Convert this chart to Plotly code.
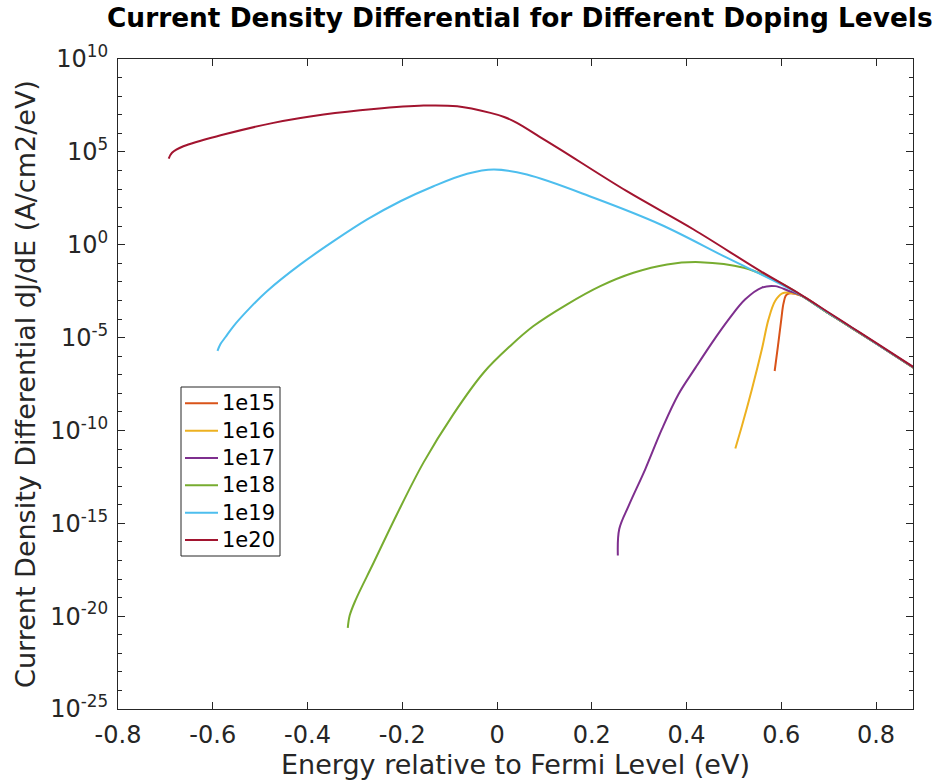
import plotly.graph_objects as go

# Energy relative to the Fermi level (eV) and log10 of dJ/dE (A/cm2/eV) per doping level
e_1e15 = [0.586, 0.593, 0.600, 0.605, 0.612, 0.640, 0.700, 0.750, 0.800, 0.879]
lg_1e15 = [-6.80, -5.45, -4.02, -3.12, -2.67, -2.72, -3.70, -4.50, -5.32, -6.62]

e_1e16 = [0.503, 0.517, 0.538, 0.559, 0.573, 0.587, 0.602, 0.616, 0.640, 0.700, 0.750, 0.800, 0.879]
lg_1e16 = [-10.97, -9.75, -7.78, -5.63, -4.02, -3.03, -2.62, -2.58, -2.72, -3.70, -4.50, -5.32, -6.62]

e_1e17 = [0.255, 0.258, 0.278, 0.313, 0.348, 0.383, 0.419, 0.454, 0.489, 0.524, 0.559, 0.587,
          0.616, 0.640, 0.700, 0.750, 0.800, 0.879]
lg_1e17 = [-16.74, -15.31, -14.05, -12.08, -9.93, -8.05, -6.62, -5.27, -4.02, -2.94, -2.31, -2.23,
           -2.49, -2.72, -3.70, -4.50, -5.32, -6.62]

e_1e18 = [-0.315, -0.311, -0.299, -0.260, -0.211, -0.155, -0.092, -0.028, 0.028, 0.077,
          0.148, 0.218, 0.288, 0.359, 0.429, 0.521, 0.591, 0.633, 0.700, 0.750, 0.800, 0.879]
lg_1e18 = [-20.63, -19.97, -19.16, -17.10, -14.50, -11.72, -9.12, -6.88, -5.45, -4.38,
           -3.21, -2.23, -1.51, -1.06, -0.94, -1.24, -1.96, -2.58, -3.70, -4.50, -5.32, -6.62]

e_1e19 = [-0.590, -0.584, -0.573, -0.556, -0.521, -0.485, -0.415, -0.345, -0.274, -0.204, -0.134,
          -0.063, -0.007, 0.063, 0.204, 0.345, 0.485, 0.626, 0.700, 0.750, 0.800, 0.879]
lg_1e19 = [-5.72, -5.36, -4.97, -4.38, -3.39, -2.49, -1.06, 0.19, 1.36, 2.34, 3.15,
           3.82, 4.05, 3.78, 2.53, 1.09, -0.70, -2.49, -3.68, -4.49, -5.31, -6.61]

e_1e20 = [-0.693, -0.686, -0.662, -0.577, -0.472, -0.366, -0.260, -0.155, -0.084, -0.014, 0.015,
          0.042, 0.090, 0.134, 0.274, 0.415, 0.556, 0.640, 0.700, 0.750, 0.800, 0.879]
lg_1e20 = [4.64, 4.95, 5.30, 5.93, 6.56, 7.01, 7.31, 7.49, 7.45, 7.10, 6.88,
           6.56, 5.81, 5.12, 2.88, 0.82, -1.42, -2.67, -3.65, -4.47, -5.29, -6.59]

labels = ["1e15", "1e16", "1e17", "1e18", "1e19", "1e20"]
colors = ["#D95319", "#EDB120", "#7E2F8E", "#77AC30", "#4DBEEE", "#A2142F"]
energies = [e_1e15, e_1e16, e_1e17, e_1e18, e_1e19, e_1e20]
log_dj = [lg_1e15, lg_1e16, lg_1e17, lg_1e18, lg_1e19, lg_1e20]

x_ticks = [-0.8, -0.6, -0.4, -0.2, 0, 0.2, 0.4, 0.6, 0.8]
x_ticktext = ["-0.8", "-0.6", "-0.4", "-0.2", "0", "0.2", "0.4", "0.6", "0.8"]
y_exponents = [-25, -20, -15, -10, -5, 0, 5, 10]

AX = "#262626"
FONT = "DejaVu Sans"

# plot-area geometry in pixels (used to place the boxed legend)
W, H = 940, 784
ML, MR, MT, MB = 118, 27, 59, 75
PW, PH = W - ML - MR, H - MT - MB


def px_x(px):
    return (px - ML) / PW


def px_y(py):
    return (H - MB - py) / PH


fig = go.Figure()
for lab, col, ex, ly in zip(labels, colors, energies, log_dj):
    fig.add_trace(go.Scatter(
        x=ex, y=[10 ** v for v in ly], mode="lines", name=lab, showlegend=False,
        line=dict(color=col, width=2, shape="spline", smoothing=1.0),
    ))

# boxed legend, upper-left of the lower half
shapes = [dict(type="rect", xref="paper", yref="paper",
               x0=px_x(181), x1=px_x(280), y0=px_y(556), y1=px_y(387),
               line=dict(color=AX, width=1), fillcolor="white", layer="above")]
annotations = []
for i, (lab, col) in enumerate(zip(labels, colors)):
    yy = px_y(403.3 + i * 27.35)
    shapes.append(dict(type="line", xref="paper", yref="paper",
                       x0=px_x(185), x1=px_x(218), y0=yy, y1=yy,
                       line=dict(color=col, width=2), layer="above"))
    annotations.append(dict(text=lab, xref="paper", yref="paper", x=px_x(220), y=yy,
                            xanchor="left", yanchor="middle", showarrow=False,
                            font=dict(family=FONT, size=21, color="black")))

fig.update_layout(
    template="none",
    width=W, height=H,
    margin=dict(l=ML, r=MR, t=MT, b=MB, autoexpand=False),
    paper_bgcolor="white", plot_bgcolor="white",
    font=dict(family=FONT, size=24, color=AX),
    title=dict(
        text="<b>Current Density Differential for Different Doping Levels</b>",
        x=0.553, xanchor="center", y=0.977, yanchor="middle",
        font=dict(family=FONT, size=26.4, color="black"),
    ),
    showlegend=False,
    shapes=shapes,
    annotations=annotations,
)

fig.update_xaxes(
    range=[-0.8, 0.878], tickmode="array", tickvals=x_ticks, ticktext=x_ticktext,
    ticks="inside", ticklen=7, tickwidth=1, tickcolor=AX, ticklabelstandoff=4,
    showline=True, linecolor=AX, linewidth=1, mirror="allticks",
    showgrid=False, zeroline=False, automargin=False,
    tickfont=dict(family=FONT, size=24, color=AX),
    title=dict(text="Energy relative to Fermi Level (eV)", standoff=3,
               font=dict(family=FONT, size=27, color=AX)),
)

fig.update_yaxes(
    type="log", range=[-25, 10], tickmode="array",
    tickvals=[10.0 ** k for k in y_exponents],
    ticktext=[f"10<sup>{k}</sup>" for k in y_exponents],
    ticks="inside", ticklen=7, tickwidth=1, tickcolor=AX, ticklabelstandoff=4,
    minor=dict(ticks="inside", ticklen=4, tickcolor=AX, tickmode="array",
               tickvals=[10.0 ** k for k in range(-25, 11) if k % 5 != 0]),
    showline=True, linecolor=AX, linewidth=1, mirror="allticks",
    showgrid=False, zeroline=False, automargin=False,
    tickfont=dict(family=FONT, size=24, color=AX),
    title=dict(text="Current Density Differential dJ/dE (A/cm2/eV)", standoff=6,
               font=dict(family=FONT, size=27, color=AX)),
)

fig.write_html("out.html")
